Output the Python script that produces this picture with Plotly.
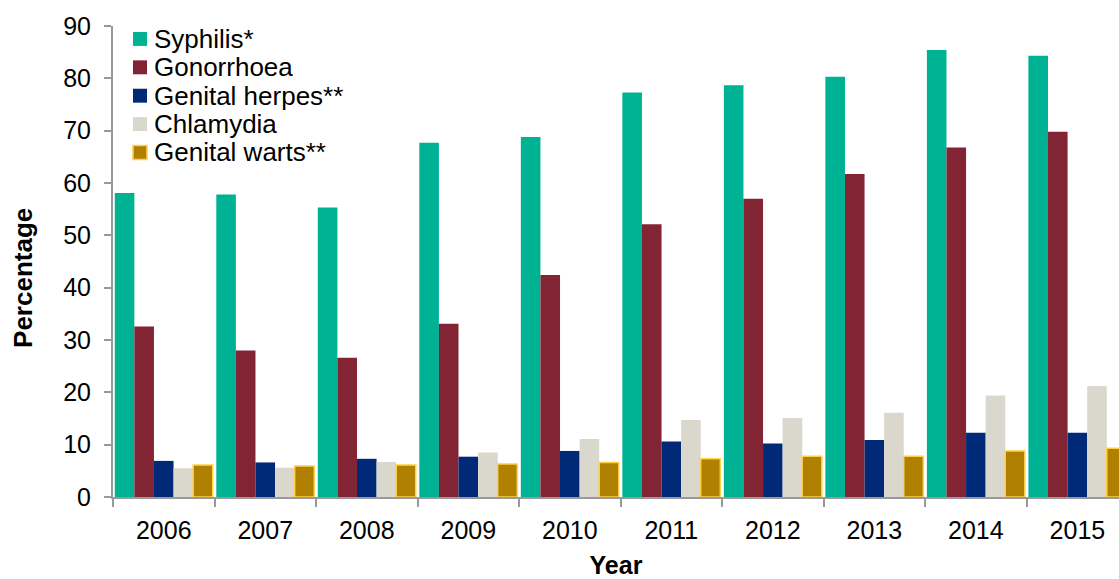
import plotly.graph_objects as go

years = ["2006", "2007", "2008", "2009", "2010", "2011", "2012", "2013", "2014", "2015"]
syphilis = [58.1, 57.8, 55.3, 67.7, 68.8, 77.3, 78.7, 80.3, 85.4, 84.3]
gonorrhoea = [32.6, 28.0, 26.6, 33.1, 42.4, 52.1, 57.0, 61.7, 66.8, 69.8]
herpes = [6.9, 6.6, 7.3, 7.7, 8.8, 10.6, 10.2, 10.9, 12.3, 12.3]
chlamydia = [5.5, 5.6, 6.7, 8.5, 11.1, 14.7, 15.1, 16.1, 19.4, 21.2]
warts = [6.1, 5.9, 6.1, 6.3, 6.6, 7.3, 7.8, 7.8, 8.8, 9.3]

names = ["Syphilis*", "Gonorrhoea", "Genital herpes**", "Chlamydia", "Genital warts**"]
values = [syphilis, gonorrhoea, herpes, chlamydia, warts]
colors = ["#00B294", "#832434", "#002A77", "#DAD8CC", "#B08000"]
edges = ["#00B294", "#832434", "#002A77", "#DAD8CC", "#FFD04A"]
edge_w = [0, 0, 0, 0, 1.5]

font = "Arial, Liberation Sans, sans-serif"
W, H = 1119, 579
L, R, T, B = 113, 0, 26, 80
pw, ph = W - L - R, H - T - B

fig = go.Figure()
for name, vals, col, lc, lw in zip(names, values, colors, edges, edge_w):
    fig.add_trace(go.Bar(x=years, y=vals, name=name, showlegend=False,
                         marker=dict(color=col, line=dict(color=lc, width=lw))))

# custom legend (tight line spacing like the reference)
def px_x(p):
    return (p - L) / pw

def px_y(p):
    return (H - B - p) / ph

shapes, annots = [], []
for i, (name, col, lc, lw) in enumerate(zip(names, colors, edges, edge_w)):
    cy = 39 + 28.5 * i
    shapes.append(dict(type="rect", xref="paper", yref="paper",
                       x0=px_x(133), x1=px_x(147), y0=px_y(cy + 7), y1=px_y(cy - 7),
                       fillcolor=col, line=dict(color=lc if lw else col, width=lw if lw else 0)))
    annots.append(dict(text=name, xref="paper", yref="paper", x=px_x(152), y=px_y(cy),
                       xanchor="left", yanchor="middle", showarrow=False,
                       font=dict(size=26, family=font, color="black")))

annots.append(dict(text="<b>Percentage</b>", xref="paper", yref="paper",
                   x=px_x(23), y=px_y(279), xanchor="center", yanchor="middle",
                   textangle=-90, showarrow=False,
                   font=dict(size=26, family=font, color="black")))

fig.update_layout(
    width=W, height=H,
    margin=dict(l=L, r=R, t=T, b=B),
    paper_bgcolor="white", plot_bgcolor="white",
    barmode="group", bargap=0.035, bargroupgap=0,
    font=dict(family=font, size=25, color="black"),
    showlegend=False,
    shapes=shapes, annotations=annots,
)
fig.update_xaxes(
    range=[-0.5, 9.41], showline=True, linecolor="#999999", linewidth=2,
    ticks="outside", tickson="boundaries", ticklen=8, tickcolor="#999999", tickwidth=2,
    ticklabelstandoff=10,
    title=dict(text="<b>Year</b>", font=dict(size=25), standoff=17),
    showgrid=False, tickfont=dict(size=25),
)
fig.update_yaxes(
    range=[0, 90], dtick=10, showline=True, linecolor="#999999", linewidth=2,
    ticks="outside", ticklen=7, tickcolor="#999999", tickwidth=2,
    ticklabelstandoff=8,
    showgrid=False, zeroline=False, tickfont=dict(size=25),
)
fig.write_html("out.html")
